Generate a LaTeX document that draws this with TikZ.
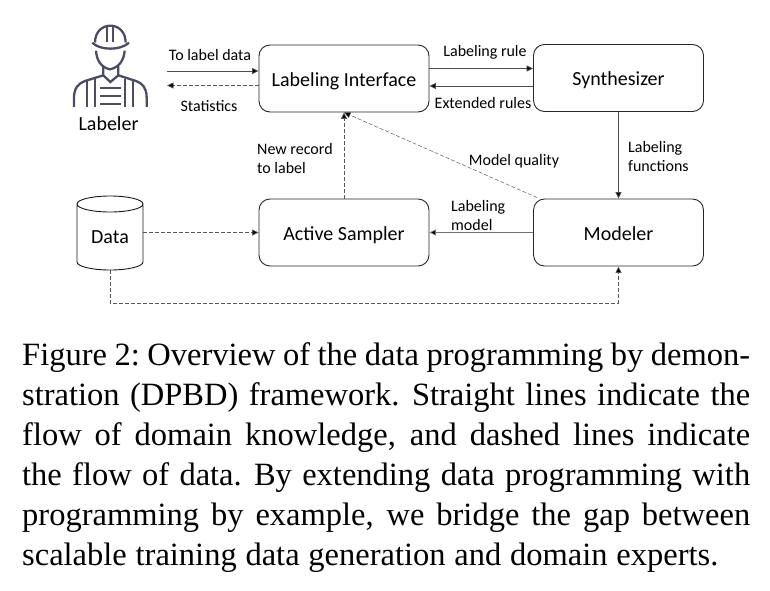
\documentclass[tikz,border=0pt]{standalone}
\usepackage{fontspec}
\setmainfont{Liberation Serif}
\newfontfamily\diagfont{Carlito}
\usetikzlibrary{arrows.meta}
\tikzset{
  boxnode/.style={draw=black!85,line width=0.9pt,rounded corners=11pt,minimum width=170pt,minimum height=67pt,inner sep=0pt,text height=19pt,text depth=4pt,font=\diagfont\fontsize{20}{22}\selectfont},
  smalllabel/.style={inner sep=0pt,font=\diagfont\fontsize{16}{19}\selectfont,align=left},
  solidflow/.style={draw=black!70,line width=0.8pt,-{Triangle[length=6.5pt,width=6pt,fill=black]}},
  dashflow/.style={draw=black!65,line width=0.7pt,dash pattern=on 4pt off 2pt,-{Triangle[length=6.5pt,width=6pt,fill=black]}},
  iconline/.style={draw=black!78!blue!40!gray,line width=2.3pt,line cap=butt,line join=miter}
}
\newcommand{\capln}[1]{\hbox to 728pt{#1}\par}
\begin{document}
\begin{tikzpicture}[x=1pt,y=-1pt]
\useasboundingbox (0,0) rectangle (770,590);
% boxes
\node[boxnode] (li) at (344,78.5) {Labeling Interface};
\node[boxnode] (syn) at (618.5,78) {Synthesizer};
\node[boxnode] (as) at (344,232.5) {Active Sampler};
\node[boxnode] (mod) at (618.5,232.5) {Modeler};
% cylinder
\node[minimum width=66pt,minimum height=74pt,inner sep=0pt,text height=25pt,text depth=4pt,font=\diagfont\fontsize{20}{22}\selectfont] (data) at (110,233) {Data};
\draw[draw=black!90,line width=0.9pt] (77,204) -- (77,262) arc[start angle=180,end angle=360,x radius=33pt,y radius=8pt] -- (143,204) arc[start angle=0,end angle=360,x radius=33pt,y radius=8pt];
% worker icon
\begin{scope}[shift={(50,10)},x=0.3333pt,y=-0.3333pt]
  \draw[iconline] (135,98) .. controls (135,30) and (227,30) .. (227,98);
  \draw[iconline,line join=round,fill=white] (127,98) .. controls (150,122) and (212,122) .. (237,98);
  \draw[iconline] (172,52) -- (172,95) (190,52) -- (190,95);
  \draw[iconline] (138,122) .. controls (140,150) and (152,172) .. (180,178) .. controls (208,172) and (222,150) .. (224,122);
  \draw[iconline] (160,168) -- (160,196) -- (181,216) -- (205,196) -- (205,168);
  \draw[iconline] (160,196) -- (105,213) .. controls (85,220) and (72,235) .. (72,262) -- (72,291);
  \draw[iconline] (205,196) -- (258,213) .. controls (278,220) and (290,235) .. (290,262) -- (290,291);
  \draw[iconline] (110,212) -- (110,291) (135,206) -- (135,291) (226,206) -- (226,291) (250,212) -- (250,291);
  \draw[iconline] (150,235) -- (212,235) (150,258) -- (212,258) (150,282) -- (212,282);
\end{scope}
\node[inner sep=0pt,font=\diagfont\fontsize{20}{22}\selectfont] (labeler) at (108.5,124) {Labeler};
\coordinate (lbout) at (167,71);
\coordinate (lbin) at (167,85.5);
% connectors
\draw[solidflow] (lbout) -- (lbout -| li.west);
\draw[dashflow] (lbin -| li.west) -- (lbin);
\draw[solidflow] ([yshift=10pt]li.east) -- ([yshift=10pt]li.east -| syn.west);
\draw[solidflow] ([yshift=-8pt]syn.west) -- ([yshift=-8pt]syn.west -| li.east);
\draw[solidflow] (syn.south) -- (mod.north);
\draw[solidflow,draw=black!55] (mod.west) -- (as.east);
\draw[dashflow] (data.east |- as.west) -- (as.west);
\draw[dashflow] (as.north) -- (li.south);
\draw[dashflow,line width=0.5pt] (mod.north west) ++(4pt,1pt) -- (li.south);
\draw[dashflow] (data.south) -- (110,303) -- (618.5,303) -- (mod.south);
% labels
\node[smalllabel] (l1) at (210,55) {To label data};
\node[smalllabel] (l2) at (209,106) {Statistics};
\node[smalllabel] (l3) at (485,52) {Labeling rule};
\node[smalllabel] (l4) at (483,103) {Extended rules};
\node[smalllabel,anchor=west] (l5) at (257,158) {New record\\to label};
\node[smalllabel] (l6) at (514,161) {Model quality};
\node[smalllabel,anchor=west] (l7) at (628,156) {Labeling\\functions};
\node[smalllabel,anchor=west] (l8) at (451,215.5) {Labeling\\model};
% caption
\node[anchor=north west,inner sep=0pt,text width=728pt,font=\fontsize{32.5}{40}\selectfont] (cap) at (22,342) {\spaceskip=.27em plus .3em minus .15em\xspaceskip=.33em plus .3em minus .15em\sfcode`\:=1000\relax\parindent=0pt
\capln{Figure 2: Overview of the data programming by demon-}
\capln{stration (DPBD) framework. Straight lines indicate the}
\capln{flow of domain knowledge, and dashed lines indicate}
\capln{the flow of data. By extending data programming with}
\capln{programming by example, we bridge the gap between}
\hbox{scalable training data generation and domain experts.}};
\end{tikzpicture}
\end{document}
